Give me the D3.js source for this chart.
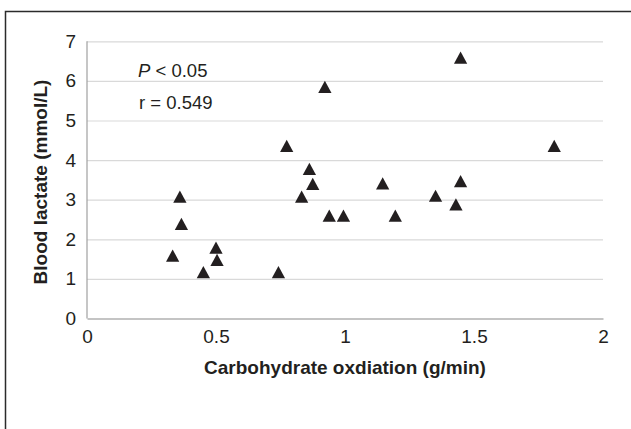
<!DOCTYPE html>
<html>
<head>
<meta charset="utf-8">
<script src="https://cdn.jsdelivr.net/npm/d3@7"></script>
<style>
  body { margin: 0; background: #fff; }
  svg { display: block; font-family: "Liberation Sans", Arial, sans-serif; }
  .grid line { stroke: #d9d9d9; stroke-width: 1.2; }
  .tick text { fill: #231f20; font-size: 19px; }
</style>
</head>
<body>
<svg></svg>
<script>
// carbohydrate oxidation (g/min) vs blood lactate (mmol/L)
const carbOx = [0.332, 0.360, 0.366, 0.451, 0.500, 0.504, 0.742, 0.774, 0.832, 0.862, 0.875,
                0.922, 0.939, 0.994, 1.146, 1.195, 1.351, 1.430, 1.448, 1.448, 1.811];
const lactate = [1.59, 3.08, 2.39, 1.17, 1.79, 1.48, 1.17, 4.36, 3.08, 3.78, 3.40,
                 5.85, 2.60, 2.60, 3.41, 2.60, 3.10, 2.88, 3.47, 6.59, 4.36];
const xTicks = [0, 0.5, 1, 1.5, 2];
const yTicks = [0, 1, 2, 3, 4, 5, 6, 7];

const W = 631, H = 429;
const svg = d3.select('svg')
    .attr('width', W)
    .attr('height', H);

// outer frame (runs off the right and bottom edges)
svg.append('rect')
    .attr('x', 5.5).attr('y', 11.5)
    .attr('width', 700).attr('height', 500)
    .attr('fill', 'none')
    .attr('stroke', '#2b2b2b')
    .attr('stroke-width', 1.5);

const x = d3.scaleLinear().domain([0, 2]).range([87, 603]);
const y = d3.scaleLinear().domain([0, 7]).range([318.5, 41.3]);

// horizontal gridlines
svg.append('g')
    .attr('class', 'grid')
    .attr('transform', `translate(${x(0)},0)`)
    .call(d3.axisLeft(y).tickValues(yTicks.slice(1)).tickSize(-(x(2) - x(0))).tickFormat(''))
    .call(g => g.select('.domain').remove());

// left axis line
svg.append('line')
    .attr('x1', x(0)).attr('x2', x(0))
    .attr('y1', y(7)).attr('y2', y(0))
    .attr('stroke', '#a0a0a0').attr('stroke-width', 1.2);

// bottom axis
svg.append('g')
    .attr('transform', `translate(0,${y(0)})`)
    .call(d3.axisBottom(x).tickValues(xTicks).tickSize(0).tickPadding(11.5).tickFormat(d => d))
    .call(g => g.select('.domain').attr('stroke', '#8a8a8a').attr('stroke-width', 1.2));

// left axis labels
svg.append('g')
    .attr('transform', `translate(${x(0)},0)`)
    .call(d3.axisLeft(y).tickValues(yTicks).tickSize(0).tickPadding(11).tickFormat(d => d))
    .call(g => g.select('.domain').remove());

// axis titles
svg.append('text')
    .attr('x', x(1)).attr('y', 373.5)
    .attr('text-anchor', 'middle')
    .attr('font-size', 19).attr('font-weight', 'bold')
    .attr('fill', '#231f20')
    .text('Carbohydrate oxdiation (g/min)');

svg.append('text')
    .attr('transform', `translate(47,182) rotate(-90)`)
    .attr('text-anchor', 'middle')
    .attr('font-size', 19).attr('font-weight', 'bold')
    .attr('fill', '#231f20')
    .text('Blood lactate (mmol/L)');

// stats annotation
const pText = svg.append('text')
    .attr('x', 138).attr('y', 76.5)
    .attr('font-size', 18.5).attr('fill', '#231f20');
pText.append('tspan').attr('font-style', 'italic').text('P');
pText.append('tspan').text(' < 0.05');

svg.append('text')
    .attr('x', 139).attr('y', 108.5)
    .attr('font-size', 18.5).attr('fill', '#231f20')
    .text('r = 0.549');

// triangle marker centred on its bounding box, like spreadsheet markers
const triangle = {
  draw(ctx, size) {
    const w = Math.sqrt(size * 2.2), h = w * 0.92;
    ctx.moveTo(0, -h / 2);
    ctx.lineTo(w / 2, h / 2);
    ctx.lineTo(-w / 2, h / 2);
    ctx.closePath();
  }
};

svg.append('g')
  .selectAll('path')
  .data(d3.range(carbOx.length))
  .enter().append('path')
    .attr('transform', i => `translate(${x(carbOx[i])},${y(lactate[i])})`)
    .attr('d', d3.symbol().type(triangle).size(80))
    .attr('fill', '#231f20');
</script>
</body>
</html>
